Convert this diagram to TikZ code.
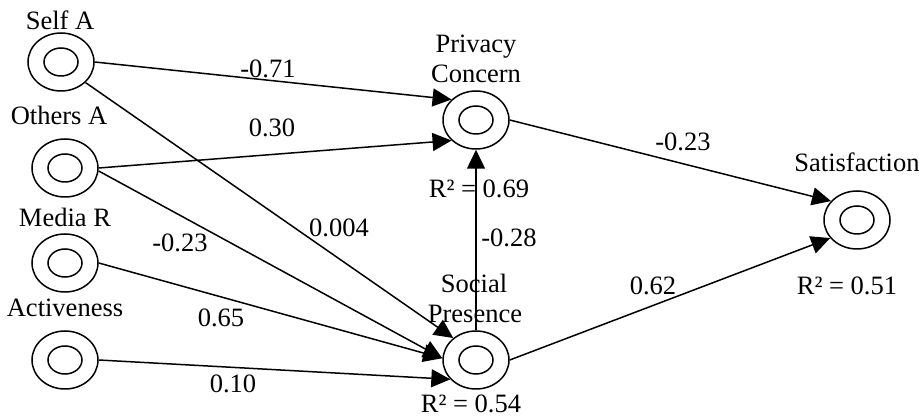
\documentclass[tikz,border=0pt]{standalone}
\usepackage{fontspec}
\setmainfont{Liberation Serif}
\usetikzlibrary{shapes.geometric,arrows.meta}
\begin{document}
\begin{tikzpicture}[x=1pt,y=-1pt,
  font=\fontsize{26.5}{31}\selectfont,
  latent/.style={ellipse,draw,line width=1.5pt,minimum width=66pt,minimum height=58pt,inner sep=0pt},
  innerell/.style={ellipse,draw,line width=1.5pt,minimum width=34pt,minimum height=28pt,inner sep=0pt},
  path/.style={line width=1.5pt,-{Triangle[length=19pt,width=18pt]}},
  lbl/.style={anchor=base,inner sep=0pt},
  coef/.style={anchor=base,inner sep=0pt}]
\useasboundingbox (0,0) rectangle (919,419);
% latent variables
\node[latent] (self) at (61,62) {};
\node[innerell] (selfi) at (self.center) {};
\node[latent] (oth) at (65,168) {};
\node[innerell] (othi) at (oth.center) {};
\node[latent] (med) at (65,263) {};
\node[innerell] (medi) at (med.center) {};
\node[latent] (act) at (65,360) {};
\node[innerell] (acti) at (act.center) {};
\node[latent] (pc) at (476,120) {};
\node[innerell] (pci) at (pc.center) {};
\node[latent] (sp) at (476,360) {};
\node[innerell] (spi) at (sp.center) {};
\node[latent] (sat) at (857,220) {};
\node[innerell] (sati) at (sat.center) {};
% labels
\node[lbl] (lself) at (60,30) {Self A};
\node[lbl] (loth) at (59,125) {Others A};
\node[lbl] (lmed) at (65,227) {Media R};
\node[lbl] (lact) at (65,317) {Activeness};
\node[lbl] (lpc1) at (476,53) {Privacy};
\node[lbl] (lpc2) at (476,83) {Concern};
\node[lbl] (lsp1) at (474,293) {Social};
\node[lbl] (lsp2) at (475,323) {Presence};
\node[lbl] (lsat) at (857,172) {Satisfaction};
\node[lbl] (r2pc) at (479,198) {R² = 0.69};
\node[lbl] (r2sp) at (471,413) {R² = 0.54};
\node[lbl] (r2sat) at (847,295) {R² = 0.51};
% paths
\draw[path] (self.east) -- (pc.140);
\draw[path] (oth.east) -- (pc.220);
\draw[path] (self.-40) -- (sp.136);
\draw[path] (oth.-5) -- (sp.177);
\draw[path] (med.east) -- (sp.177);
\draw[path] (act.east) -- (sp.217);
\draw[path] (sp.north) -- (pc.south);
\draw[path] (pc.east) -- (sat.144);
\draw[path] (sp.east) -- (sat.214);
% coefficients
\node[coef] (c1) at (268,78) {-0.71};
\node[coef] (c2) at (272,137) {0.30};
\node[coef] (c3) at (339,237) {0.004};
\node[coef] (c4) at (180,252) {-0.23};
\node[coef] (c5) at (221,327) {0.65};
\node[coef] (c6) at (233,393) {0.10};
\node[coef] (c7) at (509,247) {-0.28};
\node[coef] (c8) at (683,151) {-0.23};
\node[coef] (c9) at (653,295) {0.62};
\end{tikzpicture}
\end{document}
